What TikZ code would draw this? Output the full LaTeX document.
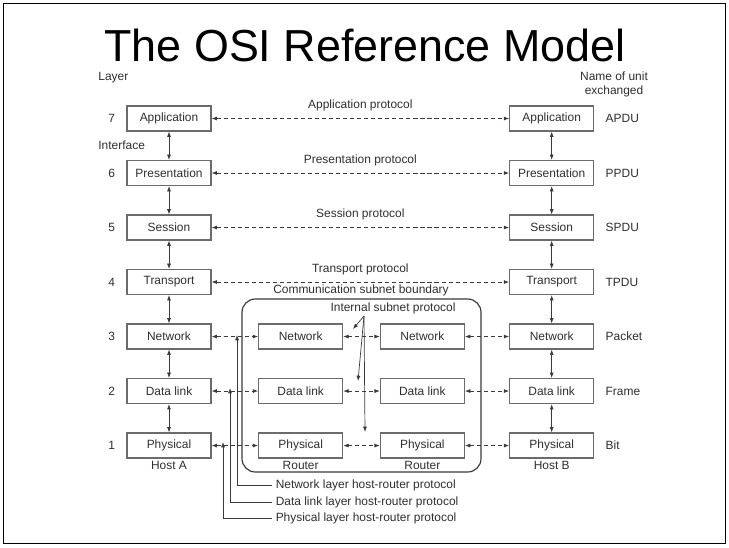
\documentclass[tikz,border=0pt]{standalone}
\usepackage{fontspec}
\setmainfont{Liberation Sans}
\usetikzlibrary{arrows.meta,positioning}
\definecolor{osiline}{HTML}{3A3A3A}
\definecolor{ositext}{HTML}{2E2E2E}
\newcommand{\osismall}{\fontsize{10.2}{12.5}\selectfont}
\tikzset{
  layerbox/.style={
    draw=osiline!75,
    line width=1pt,
    minimum width=2.52cm,
    minimum height=0.75cm,
    inner sep=2pt,
    text=ositext,
    font=\osismall
  },
  osilabel/.style={inner sep=1pt, text=ositext, font=\osismall},
  stackarrow/.style={{Latex[length=1.6mm,width=1.2mm]}-{Latex[length=1.6mm,width=1.2mm]}, line width=0.6pt, draw=osiline},
  peerarrow/.style={stackarrow, dash pattern=on 3.5pt off 2.5pt},
  pointarrow/.style={-{Latex[length=1.6mm,width=1.2mm]}, line width=0.6pt, draw=osiline}
}

\begin{document}
\begin{tikzpicture}[x=0.03cm, y=-0.03cm, node distance=0.85cm]
  \useasboundingbox (0,0) rectangle (729,547);
  \draw[line width=1.6pt] (3.5,3.5) rectangle (725.5,543.5);

  \node[font=\fontsize{38.3}{40}\selectfont, anchor=base] (title) at (365,61) {The OSI Reference Model};

  % host A
  \node[layerbox] (appA) at (169,118.5) {Application};
  \node[layerbox, below=of appA] (presA) {Presentation};
  \node[layerbox, below=of presA] (sessA) {Session};
  \node[layerbox, below=of sessA] (transA) {Transport};
  \node[layerbox, below=of transA] (netA) {Network};
  \node[layerbox, below=of netA] (linkA) {Data link};
  \node[layerbox, below=of linkA] (physA) {Physical};

  % host B
  \node[layerbox, right=8.925cm of appA] (appB) {Application};
  \node[layerbox, right=8.925cm of presA] (presB) {Presentation};
  \node[layerbox, right=8.925cm of sessA] (sessB) {Session};
  \node[layerbox, right=8.925cm of transA] (transB) {Transport};
  \node[layerbox, right=8.925cm of netA] (netB) {Network};
  \node[layerbox, right=8.925cm of linkA] (linkB) {Data link};
  \node[layerbox, right=8.925cm of physA] (physB) {Physical};

  % routers
  \node[layerbox, right=1.395cm of netA] (netR1) {Network};
  \node[layerbox, right=1.395cm of linkA] (linkR1) {Data link};
  \node[layerbox, right=1.395cm of physA] (physR1) {Physical};
  \node[layerbox, right=1.095cm of netR1] (netR2) {Network};
  \node[layerbox, right=1.095cm of linkR1] (linkR2) {Data link};
  \node[layerbox, right=1.095cm of physR1] (physR2) {Physical};

  % layer numbers and unit names
  \node[osilabel, left=0.3cm of appA] (num7) {7};
  \node[osilabel, left=0.3cm of presA] (num6) {6};
  \node[osilabel, left=0.3cm of sessA] (num5) {5};
  \node[osilabel, left=0.3cm of transA] (num4) {4};
  \node[osilabel, left=0.3cm of netA] (num3) {3};
  \node[osilabel, left=0.3cm of linkA] (num2) {2};
  \node[osilabel, left=0.3cm of physA] (num1) {1};
  \node[osilabel, right=0.3cm of appB] (unit7) {APDU};
  \node[osilabel, right=0.3cm of presB] (unit6) {PPDU};
  \node[osilabel, right=0.3cm of sessB] (unit5) {SPDU};
  \node[osilabel, right=0.3cm of transB] (unit4) {TPDU};
  \node[osilabel, right=0.3cm of netB] (unit3) {Packet};
  \node[osilabel, right=0.3cm of linkB] (unit2) {Frame};
  \node[osilabel, right=0.3cm of physB] (unit1) {Bit};

  \node[osilabel, anchor=west] (layer) at (97,78) {Layer};
  \node[osilabel, anchor=west] (interface) at (97,145) {Interface};
  \node[osilabel, align=center] (unitname) at (614,84.5) {Name of unit\\exchanged};

  \node[osilabel, below=1pt of physA] (hostA) {Host A};
  \node[osilabel, below=1pt of physB] (hostB) {Host B};
  \node[osilabel, below=1pt of physR1] (router1) {Router};
  \node[osilabel, below=1pt of physR2] (router2) {Router};

  % interfaces inside the hosts
  \draw[stackarrow] (appA) -- (presA);
  \draw[stackarrow] (presA) -- (sessA);
  \draw[stackarrow] (sessA) -- (transA);
  \draw[stackarrow] (transA) -- (netA);
  \draw[stackarrow] (netA) -- (linkA);
  \draw[stackarrow] (linkA) -- (physA);
  \draw[stackarrow] (appB) -- (presB);
  \draw[stackarrow] (presB) -- (sessB);
  \draw[stackarrow] (sessB) -- (transB);
  \draw[stackarrow] (transB) -- (netB);
  \draw[stackarrow] (netB) -- (linkB);
  \draw[stackarrow] (linkB) -- (physB);

  % end-to-end protocols
  \draw[peerarrow] (appA) -- node[osilabel, above=5pt] (appproto) {Application protocol} (appB);
  \draw[peerarrow] (presA) -- node[osilabel, above=5pt] (presproto) {Presentation protocol} (presB);
  \draw[peerarrow] (sessA) -- node[osilabel, above=5pt] (sessproto) {Session protocol} (sessB);
  \draw[peerarrow] (transA) -- node[osilabel, above=5pt] (transproto) {Transport protocol} (transB);

  % hop-by-hop protocols
  \draw[peerarrow] (netA) -- (netR1);
  \draw[peerarrow] (netR1) -- (netR2);
  \draw[peerarrow] (netR2) -- (netB);
  \draw[peerarrow] (linkA) -- (linkR1);
  \draw[peerarrow] (linkR1) -- (linkR2);
  \draw[peerarrow] (linkR2) -- (linkB);
  \draw[peerarrow] (physA) -- (physR1);
  \draw[peerarrow] (physR1) -- (physR2);
  \draw[peerarrow] (physR2) -- (physB);

  % subnet
  \draw[draw=osiline, line width=1pt, rounded corners=0.4cm] (242,299) rectangle (481,472);
  \node[osilabel] (boundary) at (361,290) {Communication subnet boundary};
  \node[osilabel] (internal) at (393,308) {Internal subnet protocol};

  \coordinate (intsrc) at (364,316);
  \coordinate (intnet) at (353,329);
  \coordinate (intlink) at (358,381);
  \coordinate (intphys) at (365,432);
  \draw[pointarrow] (intsrc) -- (intnet);
  \draw[pointarrow] (intsrc) -- (intlink);
  \draw[pointarrow] (intsrc) -- (intphys);

  % host-router protocols
  \node[osilabel, anchor=west, inner xsep=3pt] (hrnet) at (272,485) {Network layer host-router protocol};
  \node[osilabel, anchor=west, inner xsep=3pt] (hrlink) at (272,502) {Data link layer host-router protocol};
  \node[osilabel, anchor=west, inner xsep=3pt] (hrphys) at (272,518) {Physical layer host-router protocol};
  \coordinate (nettip) at (237,335);
  \coordinate (linktip) at (230,388);
  \coordinate (phystip) at (223,442);
  \draw[pointarrow] (hrnet.west) -| (nettip);
  \draw[pointarrow] (hrlink.west) -| (linktip);
  \draw[pointarrow] (hrphys.west) -| (phystip);
\end{tikzpicture}
\end{document}
